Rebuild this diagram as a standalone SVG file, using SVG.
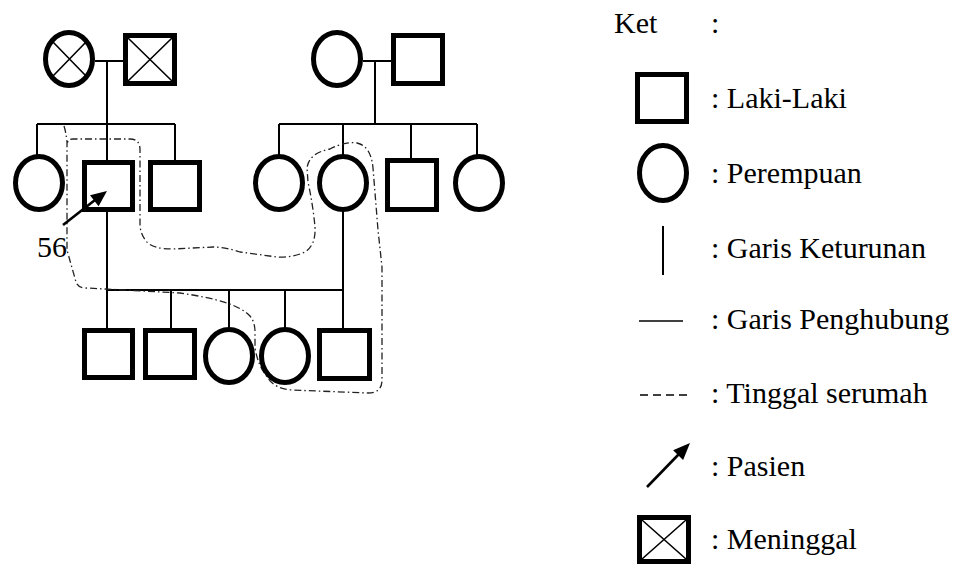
<svg xmlns="http://www.w3.org/2000/svg" width="968" height="565" viewBox="0 0 968 565">
<style>
.m{fill:#fff;stroke:#000;stroke-width:5}
.x{stroke:#000;stroke-width:1.6;fill:none}
.c{stroke:#000;stroke-width:2;fill:none}
.h{stroke:#222;stroke-width:1.3;fill:none}
.a{stroke:#000;stroke-width:2.6;fill:none}
text, .t{font-family:'Liberation Serif',serif !important;font-size:30px !important}
</style>

<g id="connectors">
<path class="c" d="M95,61 H123 M107,61 V124 M37,124 H175 M37,124 V155 M107,124 V161 M175,124 V161"/>
<path class="c" d="M363,61 H391 M375,61 V124 M279,124 H477 M279,124 V155 M343,124 V155 M411,124 V159 M477,124 V155"/>
<path class="c" d="M107,212 V290 M343,211 V290 M107,290 H343 M107,290 V329 M171,290 V329 M229,290 V328 M285,290 V328 M343,290 V329"/>
</g>

<g id="household">
<path class="h" stroke-dasharray="7 3 1.5 3" d="M64,126 Q66,132 67,142 L67,250 L76,282 Q78,288 86,288 L180,293 C215,298 240,305 250,316 Q255,322 255,332 L255,348 Q258,366 268,378 Q275,389 292,390 L368,393 Q382,393 382,380 L382,267 L378,230 L373,168 Q371,146 357,143 Q346,141 330,149 Q309,153 307,168 L308,182 Q313,205 315,227 Q316,245 305,252 Q292,258 277,257 L240,252 Q225,247 213,247 L173,249 Q152,249 146,241 Q140,233 140,224 L140,150 Q140,139 130,139 L73,139 Q67,139 67,146"/>
</g>

<g id="gp1-grandmother">
<ellipse class="m" cx="69" cy="59" rx="23.5" ry="26.5"/>
<path class="x" d="M53,42 L86,76 M86,42 L53,76"/>
</g>
<g id="gp1-grandfather">
<rect class="m" x="125.5" y="35.5" width="49" height="48"/>
<path class="x" d="M128,38 L172,81 M172,38 L128,81"/>
</g>
<g id="gp2-grandmother"><ellipse class="m" cx="337" cy="59" rx="23.5" ry="26.5"/></g>
<g id="gp2-grandfather"><rect class="m" x="393.5" y="35.5" width="49" height="48"/></g>

<g id="p1-daughter"><ellipse class="m" cx="39" cy="183" rx="23.5" ry="26.5"/></g>
<g id="p1-patient"><rect class="m" x="84.5" y="162.5" width="48" height="47"/></g>
<g id="p1-son"><rect class="m" x="150.5" y="162.5" width="49" height="47"/></g>
<g id="p2-daughter1"><ellipse class="m" cx="279" cy="183" rx="23.5" ry="26.5"/></g>
<g id="p2-wife"><ellipse class="m" cx="343" cy="183" rx="23.5" ry="26.5"/></g>
<g id="p2-son"><rect class="m" x="387.5" y="160.5" width="49" height="49"/></g>
<g id="p2-daughter2"><ellipse class="m" cx="479" cy="183" rx="23.5" ry="26.5"/></g>

<g id="c1"><rect class="m" x="84.5" y="330.5" width="48" height="47"/></g>
<g id="c2"><rect class="m" x="145.5" y="330.5" width="49" height="47"/></g>
<g id="c3"><ellipse class="m" cx="229" cy="356" rx="23.5" ry="26.5"/></g>
<g id="c4"><ellipse class="m" cx="285" cy="356" rx="23.5" ry="26.5"/></g>
<g id="c5"><rect class="m" x="319.5" y="330.5" width="50" height="48"/></g>

<g id="patient-arrow">
<line class="a" x1="63" y1="225" x2="95" y2="200"/>
<polygon points="107,191 98.6,206.3 90,195.3" fill="#000"/>
<text class="t" x="37" y="257" style="font-family:'Liberation Serif',serif !important;font-size:30px !important">56</text>
</g>

<g id="legend">
<text class="t" x="614" y="33" style="font-family:'Liberation Serif',serif !important;font-size:30px !important">Ket</text>
<text class="t" x="711" y="33" style="font-family:'Liberation Serif',serif !important;font-size:30px !important">:</text>
<rect class="m" x="637.5" y="74.5" width="49" height="47"/>
<text class="t" x="711" y="108" style="font-family:'Liberation Serif',serif !important;font-size:30px !important">: Laki-Laki</text>
<ellipse class="m" cx="663" cy="173" rx="23.5" ry="27.5"/>
<text class="t" x="711" y="183" style="font-family:'Liberation Serif',serif !important;font-size:30px !important">: Perempuan</text>
<line class="c" x1="663" y1="226" x2="663" y2="275"/>
<text class="t" x="711" y="258" style="font-family:'Liberation Serif',serif !important;font-size:30px !important">: Garis Keturunan</text>
<line class="x" x1="639" y1="321" x2="683" y2="321"/>
<text class="t" x="711" y="329" style="font-family:'Liberation Serif',serif !important;font-size:30px !important">: Garis Penghubung</text>
<line class="x" x1="640" y1="395" x2="687" y2="395" stroke-dasharray="8 5"/>
<text class="t" x="711" y="403" style="font-family:'Liberation Serif',serif !important;font-size:30px !important">: Tinggal serumah</text>
<line class="a" x1="647" y1="487" x2="679" y2="454"/>
<polygon points="690,443 683.1,460.1 673.1,450.3" fill="#000"/>
<text class="t" x="711" y="476" style="font-family:'Liberation Serif',serif !important;font-size:30px !important">: Pasien</text>
<rect class="m" x="639.5" y="517.5" width="49" height="44"/>
<path class="x" d="M642,520 L686,559 M686,520 L642,559"/>
<text class="t" x="711" y="549" style="font-family:'Liberation Serif',serif !important;font-size:30px !important">: Meninggal</text>
</g>
</svg>
